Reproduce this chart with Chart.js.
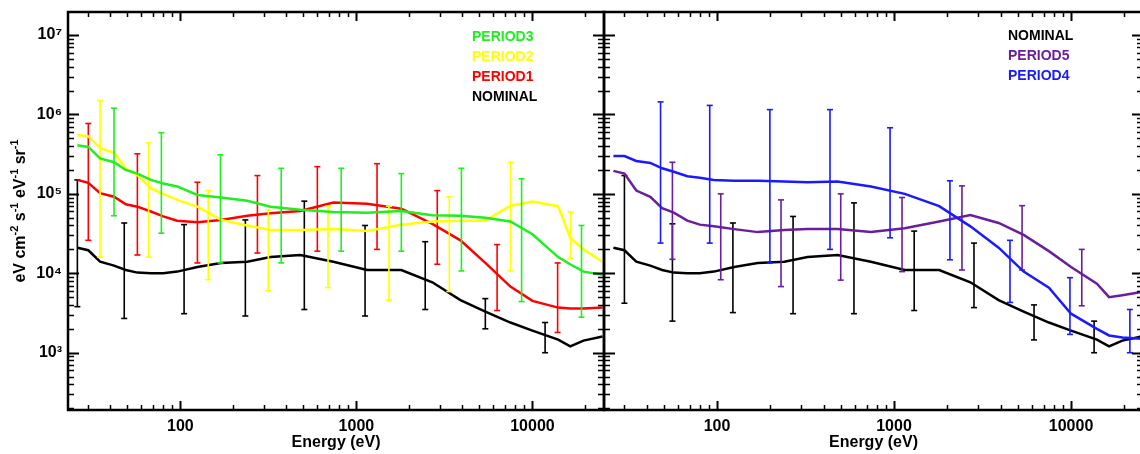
<!DOCTYPE html>
<html>
<head>
<meta charset="utf-8">
<script src="https://cdn.jsdelivr.net/npm/chart.js@4.4.1/dist/chart.umd.min.js"></script>
<style>
  html, body { margin: 0; padding: 0; background: #fff; overflow: hidden; width: 1140px; height: 454px; }
  canvas { position: absolute; top: 0; }
  #chartLeft { left: 0; }
  #chartRight { left: 594px; }
</style>
</head>
<body>
<canvas id="chartLeft" width="610" height="454"></canvas>
<canvas id="chartRight" width="560" height="454"></canvas>
<script>
// Energia (eV) comun para todas las curvas
const energies = [26, 30, 35, 42, 49, 57, 68, 80, 96, 125, 170, 240, 325, 480, 740, 1150, 1800, 2700, 3900, 5400, 7500, 10000, 14000, 16400, 19500, 25000];

const nominal = [2.1e4, 1.95e4, 1.4e4, 1.25e4, 1.1e4, 1.02e4, 1.0e4, 1.0e4, 1.05e4, 1.2e4, 1.35e4, 1.4e4, 1.6e4, 1.7e4, 1.4e4, 1.1e4, 1.1e4, 7.7e3, 4.6e3, 3.3e3, 2.4e3, 1.9e3, 1.46e3, 1.2e3, 1.42e3, 1.6e3];
const period1 = [1.5e5, 1.38e5, 1.02e5, 9.2e4, 7.4e4, 6.9e4, 6.0e4, 5.2e4, 4.6e4, 4.4e4, 4.7e4, 5.3e4, 5.7e4, 6.1e4, 7.8e4, 7.5e4, 6.5e4, 4.2e4, 2.6e4, 1.35e4, 6.8e3, 4.5e3, 3.7e3, 3.6e3, 3.6e3, 3.7e3];
const period2 = [5.5e5, 5.3e5, 3.8e5, 3.3e5, 2.1e5, 1.72e5, 1.17e5, 1.0e5, 8.4e4, 6.9e4, 4.7e4, 4.0e4, 3.5e4, 3.5e4, 3.6e4, 3.4e4, 4.1e4, 4.5e4, 4.6e4, 4.6e4, 7.1e4, 8.0e4, 7.0e4, 2.8e4, 2.0e4, 1.4e4];
const period3 = [4.1e5, 3.9e5, 2.8e5, 2.5e5, 2.0e5, 1.8e5, 1.5e5, 1.35e5, 1.24e5, 9.7e4, 9.0e4, 8.2e4, 6.9e4, 6.3e4, 5.9e4, 5.8e4, 6.1e4, 5.4e4, 5.3e4, 5.0e4, 4.5e4, 3.1e4, 1.6e4, 1.3e4, 1.05e4, 9.6e3];
const period4 = [3.0e5, 3.0e5, 2.6e5, 2.45e5, 2.1e5, 1.9e5, 1.67e5, 1.6e5, 1.5e5, 1.46e5, 1.46e5, 1.43e5, 1.4e5, 1.43e5, 1.24e5, 1.0e5, 7.0e4, 3.9e4, 2.1e4, 1.05e4, 6.6e3, 3.1e3, 2.0e3, 1.65e3, 1.55e3, 1.5e3];
const period5 = [1.95e5, 1.8e5, 1.1e5, 9.2e4, 6.6e4, 5.8e4, 4.6e4, 4.1e4, 3.9e4, 3.6e4, 3.3e4, 3.5e4, 3.6e4, 3.6e4, 3.3e4, 3.7e4, 4.5e4, 5.4e4, 4.3e4, 3.05e4, 1.9e4, 1.2e4, 7.4e3, 5.0e3, 5.3e3, 5.8e3];

// Barras de error: [energia, minimo, maximo]
const nominalBarsL = [[26, 3.8e3, 1.5e5], [48, 2.7e3, 4.3e4], [105, 3.1e3, 4.1e4], [234, 2.9e3, 4.7e4], [506, 3.5e3, 8.1e4], [1120, 2.9e3, 4.0e4], [2460, 3.5e3, 2.5e4], [5400, 2.0e3, 4.8e3], [11800, 1.0e3, 2.4e3]];
const period1Bars = [[30, 2.6e4, 7.7e5], [57, 1.7e4, 3.2e5], [125, 1.35e4, 1.4e5], [274, 1.8e4, 1.7e5], [600, 1.9e4, 2.2e5], [1310, 2.0e4, 2.4e5], [2880, 1.3e4, 1.1e5], [6300, 3.4e3, 2.3e4], [13900, 1.8e3, 1.35e4]];
const period2Bars = [[35, 1.6e4, 1.5e6], [66, 1.6e4, 4.4e5], [144, 8.3e3, 1.1e5], [316, 6.0e3, 6.3e4], [690, 6.6e3, 7.0e4], [1530, 4.6e3, 7.0e4], [3370, 5.9e3, 9.2e4], [7520, 1.07e4, 2.5e5], [16500, 1.55e4, 5.9e4]];
const period3Bars = [[42, 5.3e4, 1.2e6], [78, 3.2e4, 5.9e5], [169, 1.35e4, 3.1e5], [374, 1.35e4, 2.1e5], [820, 1.9e4, 2.1e5], [1800, 1.9e4, 1.8e5], [3950, 1.07e4, 2.1e5], [8680, 4.4e3, 1.55e5], [19000, 2.8e3, 4.0e4]];
const nominalBarsR = [[30, 4.2e3, 1.7e5], [56, 2.5e3, 4.2e4], [123, 3.2e3, 4.3e4], [269, 3.1e3, 5.2e4], [594, 3.1e3, 7.7e4], [1300, 3.4e3, 3.4e4], [2830, 3.7e3, 2.4e4], [6180, 1.45e3, 4.0e3], [13500, 1.0e3, 2.5e3]];
const period4Bars = [[48, 2.4e4, 1.44e6], [91, 2.4e4, 1.3e6], [199, 1.35e4, 1.15e6], [435, 2.0e4, 1.15e6], [950, 2.8e4, 6.8e5], [2070, 1.48e4, 1.46e5], [4520, 4.3e3, 2.6e4], [9860, 1.7e3, 8.8e3], [21500, 1.0e3, 3.5e3]];
const period5Bars = [[56, 1.5e4, 2.5e5], [105, 8.3e3, 1.0e5], [230, 6.8e3, 8.4e4], [500, 8.2e3, 1.0e5], [1110, 1.05e4, 9.0e4], [2420, 1.1e4, 1.26e5], [5290, 1.1e4, 7.1e4], [11500, 3.9e3, 2.0e4]];

const xRange = [23, 25500];
const yRange = [190, 1.95e7];
const xTitle = 'Energy (eV)';
const yTitleParts = [['eV cm', false], ['-2', true], [' s', false], ['-1', true], [' eV', false], ['-1', true], [' sr', false], ['-1', true]];

const FONT = "'Liberation Sans', Arial, Helvetica, sans-serif";
const COLORS = { nominal: '#000000', p1: '#ff0000', p2: '#ffff00', p3: '#1fee1f', p4: '#1a1aff', p5: '#6a1e9c' };
const SUP = { '0': '\u2070', '1': '\u00b9', '2': '\u00b2', '3': '\u00b3', '4': '\u2074', '5': '\u2075', '6': '\u2076', '7': '\u2077', '8': '\u2078', '9': '\u2079' };

function isDecade(v) {
    const l = Math.log10(v);
    return Math.abs(l - Math.round(l)) < 1e-6;
}

function curve(label, vals, color) {
    return {
        label,
        data: energies.map((e, i) => ({ x: e, y: vals[i] })),
        borderColor: color,
        borderWidth: 2.5,
        pointRadius: 0,
        showLine: true,
        tension: 0
    };
}

function errBars(label, list, color) {
    return {
        label,
        data: list.flatMap(([e, lo, hi]) => [{ x: e, y: lo }, { x: e, y: hi }, { x: e, y: null }]),
        borderColor: color,
        borderWidth: 1.6,
        showLine: true,
        spanGaps: false,
        pointStyle: 'line',
        pointRadius: 3,
        pointBorderColor: color,
        pointBorderWidth: 1.6
    };
}

// ticks hacia adentro en los cuatro lados + marco
function logValues(min, max) {
    const out = [];
    for (let e = Math.floor(Math.log10(min)); e <= Math.ceil(Math.log10(max)); e++) {
        for (let m = 1; m <= 9; m++) {
            const v = m * Math.pow(10, e);
            if (v >= min && v <= max) out.push({ v, major: m === 1 });
        }
    }
    return out;
}

const frameTicks = {
    id: 'frameTicks',
    afterDatasetsDraw(chart) {
        const { ctx, chartArea: a, scales: { x, y } } = chart;
        ctx.save();
        ctx.strokeStyle = '#000';
        [true, false].forEach(major => {
            ctx.lineWidth = major ? 2 : 1.5;
            ctx.beginPath();
            logValues(x.min, x.max).filter(t => t.major === major).forEach(t => {
                const px = Math.round(x.getPixelForValue(t.v)) + 0.5;
                const len = major ? 9 : 5;
                ctx.moveTo(px, a.bottom); ctx.lineTo(px, a.bottom - len);
                ctx.moveTo(px, a.top); ctx.lineTo(px, a.top + len);
            });
            logValues(y.min, y.max).filter(t => t.major === major).forEach(t => {
                const py = Math.round(y.getPixelForValue(t.v)) + 0.5;
                const len = major ? 11 : 6;
                ctx.moveTo(a.left, py); ctx.lineTo(a.left + len, py);
                ctx.moveTo(a.right, py); ctx.lineTo(a.right - len, py);
            });
            ctx.stroke();
        });
        ctx.lineWidth = 2.5;
        ctx.strokeRect(a.left, a.top, a.right - a.left, a.bottom - a.top);
        ctx.restore();
    }
};

const decor = {
    id: 'decor',
    afterDraw(chart, args, opts) {
        const { ctx, chartArea: a } = chart;
        ctx.save();
        ctx.textBaseline = 'middle';
        ctx.textAlign = 'left';
        ctx.font = `bold 14px ${FONT}`;
        opts.legend.forEach((it, i) => {
            ctx.fillStyle = it.color;
            ctx.fillText(it.text, opts.legendX, opts.legendY + i * 20);
        });
        ctx.fillStyle = '#000';
        ctx.textAlign = 'center';
        ctx.font = `bold 16px ${FONT}`;
        ctx.fillText(xTitle, (a.left + a.right) / 2, 443);
        if (opts.yTitle) {
            const big = `bold 16px ${FONT}`, small = `bold 11px ${FONT}`;
            let total = 0;
            yTitleParts.forEach(([t, sup]) => { ctx.font = sup ? small : big; total += ctx.measureText(t).width; });
            ctx.translate(25, (a.top + a.bottom) / 2);
            ctx.rotate(-Math.PI / 2);
            ctx.textAlign = 'left';
            ctx.textBaseline = 'alphabetic';
            let pos = -total / 2;
            yTitleParts.forEach(([t, sup]) => {
                ctx.font = sup ? small : big;
                ctx.fillText(t, pos, sup ? -7 : 0);
                pos += ctx.measureText(t).width;
            });
        }
        ctx.restore();
    }
};

function noOverhang(s) {
    s.paddingTop = 0; s.paddingBottom = 0; s.paddingLeft = 0; s.paddingRight = 0;
}

function buildOptions(showY, yWidth, padRight, decorOpts) {
    return {
        responsive: false,
        animation: false,
        events: [],
        layout: { padding: { top: 12, right: padRight, left: 0, bottom: 0 } },
        plugins: { legend: { display: false }, tooltip: { enabled: false }, decor: decorOpts },
        scales: {
            x: {
                type: 'logarithmic', min: xRange[0], max: xRange[1],
                grid: { display: false, drawTicks: false },
                border: { display: false },
                ticks: {
                    autoSkip: false, maxRotation: 0, padding: 7, color: '#000',
                    font: { family: FONT, size: 16, weight: 'bold' },
                    callback: v => isDecade(v) ? String(Math.round(v)) : ''
                },
                afterFit: s => { s.height = 44; noOverhang(s); }
            },
            y: {
                type: 'logarithmic', min: yRange[0], max: yRange[1],
                grid: { display: false, drawTicks: false },
                border: { display: false },
                ticks: {
                    display: showY, autoSkip: false, padding: 6, color: '#000',
                    font: { family: FONT, size: 16, weight: 'bold' },
                    callback: v => isDecade(v) ? '10' + String(Math.round(Math.log10(v))).split('').map(c => SUP[c]).join('') : ''
                },
                afterFit: s => { s.width = yWidth; noOverhang(s); }
            }
        }
    };
}

new Chart(document.getElementById('chartLeft'), {
    type: 'scatter',
    data: {
        datasets: [
            curve('PERIOD3', period3, COLORS.p3), errBars('PERIOD3 err', period3Bars, COLORS.p3),
            curve('PERIOD2', period2, COLORS.p2), errBars('PERIOD2 err', period2Bars, COLORS.p2),
            curve('PERIOD1', period1, COLORS.p1), errBars('PERIOD1 err', period1Bars, COLORS.p1),
            curve('NOMINAL', nominal, COLORS.nominal), errBars('NOMINAL err', nominalBarsL, COLORS.nominal)
        ]
    },
    options: buildOptions(true, 68, 6, {
        legendX: 472, legendY: 37, yTitle: true,
        legend: [
            { text: 'PERIOD3', color: COLORS.p3 },
            { text: 'PERIOD2', color: COLORS.p2 },
            { text: 'PERIOD1', color: COLORS.p1 },
            { text: 'NOMINAL', color: COLORS.nominal }
        ]
    }),
    plugins: [frameTicks, decor]
});

new Chart(document.getElementById('chartRight'), {
    type: 'scatter',
    data: {
        datasets: [
            curve('PERIOD4', period4, COLORS.p4), errBars('PERIOD4 err', period4Bars, COLORS.p4),
            curve('PERIOD5', period5, COLORS.p5), errBars('PERIOD5 err', period5Bars, COLORS.p5),
            curve('NOMINAL', nominal, COLORS.nominal), errBars('NOMINAL err', nominalBarsR, COLORS.nominal)
        ]
    },
    options: buildOptions(false, 10, 11, {
        legendX: 1008 - 594, legendY: 36, yTitle: false,
        legend: [
            { text: 'NOMINAL', color: COLORS.nominal },
            { text: 'PERIOD5', color: COLORS.p5 },
            { text: 'PERIOD4', color: COLORS.p4 }
        ]
    }),
    plugins: [frameTicks, decor]
});
</script>
</body>
</html>
